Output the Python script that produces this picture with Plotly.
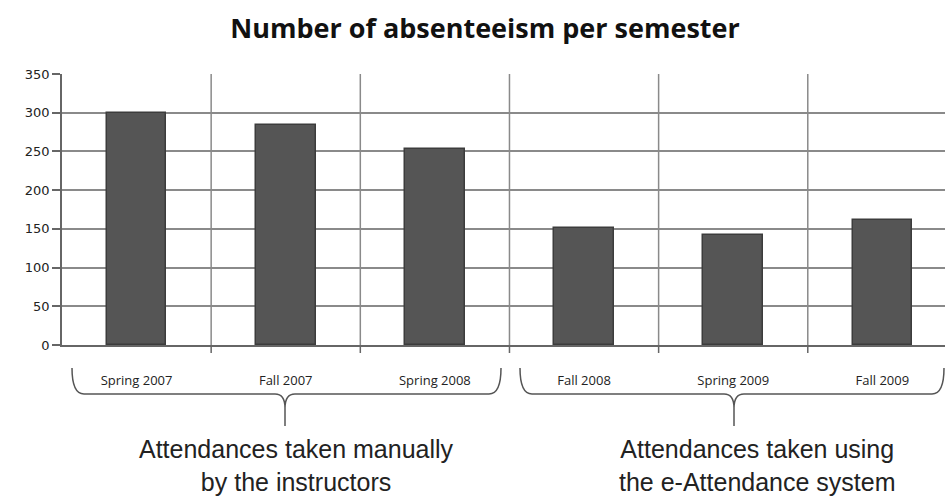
import plotly.graph_objects as go

categories = ["Spring 2007", "Fall 2007", "Spring 2008", "Fall 2008", "Spring 2009", "Fall 2009"]
absences = [300, 284, 253, 151, 142, 161]
y_ticks = [0, 50, 100, 150, 200, 250, 300, 350]
group_labels = ["Attendances taken manually<br>by the instructors",
                "Attendances taken using<br>the e-Attendance system"]

W, H = 945, 499
L, R, T, B = 62, 0, 74, 154
pw, ph = W - L - R, H - T - B

def px(x):
    return (x - L) / pw

def py(y):
    return (H - B - y) / ph

fig = go.Figure()
fig.add_trace(go.Bar(
    x=list(range(len(categories))), y=absences, width=0.4,
    marker=dict(color="#555555", line=dict(color="#3c3c3c", width=1.5)),
))

grid_col = "#8a8a8a"
for i in range(len(categories)):
    fig.add_shape(type="line", xref="x", yref="paper", x0=i + 0.5, x1=i + 0.5, y0=0, y1=1,
                  line=dict(color=grid_col, width=1.5), layer="below")
    fig.add_shape(type="line", xref="x", yref="paper", x0=i + 0.5, x1=i + 0.5, y0=0, y1=py(353),
                  line=dict(color="#666666", width=1.5))

def brace(x0, x1, xc, ytop=368, ybar=394, ybot=426):
    p = (f"M {px(x0)},{py(ytop)} Q {px(x0)},{py(ybar)} {px(x0+12)},{py(ybar)} "
         f"L {px(xc-10)},{py(ybar)} Q {px(xc)},{py(ybar)} {px(xc)},{py(ybar+14)} L {px(xc)},{py(ybot)} "
         f"M {px(xc)},{py(ybar+14)} Q {px(xc)},{py(ybar)} {px(xc+10)},{py(ybar)} "
         f"L {px(x1-12)},{py(ybar)} Q {px(x1)},{py(ybar)} {px(x1)},{py(ytop)}")
    fig.add_shape(type="path", xref="paper", yref="paper", path=p,
                  line=dict(color="#555555", width=1.5))

brace(72, 501, 285)
brace(520, 944, 734)

for label, cx in zip(group_labels, [296, 757]):
    fig.add_annotation(xref="paper", yref="paper", x=px(cx), y=py(465), text=label,
                       xanchor="center", yanchor="middle", showarrow=False,
                       font=dict(family="Liberation Sans", size=25, color="#222222"),
                       align="center")

fig.update_layout(
    width=W, height=H,
    margin=dict(l=L, r=R, t=T, b=B),
    paper_bgcolor="white", plot_bgcolor="white",
    showlegend=False, bargap=0,
    title=dict(text="<b>Number of absenteeism per semester</b>", x=485 / W, xanchor="center",
               y=1 - 29 / H, yanchor="middle",
               font=dict(family="Open Sans", size=27, color="#111111")),
    xaxis=dict(range=[-0.5, 5.42], tickmode="array", tickvals=list(range(len(categories))),
               ticktext=categories, showgrid=False, zeroline=False, showline=True,
               linecolor="#666666", linewidth=1.5, ticks="",
               tickfont=dict(family="Open Sans", size=13, color="#222222"),
               ticklabelstandoff=23),
    yaxis=dict(range=[0, 350], tickvals=y_ticks, showgrid=True, gridcolor=grid_col, gridwidth=1.5,
               zeroline=False, showline=True, linecolor="#666666", linewidth=1.5,
               ticks="outside", ticklen=8, tickcolor="#666666", tickwidth=1.5,
               tickfont=dict(family="DejaVu Sans", size=13, color="#222222")),
)

fig.write_html("out.html")
